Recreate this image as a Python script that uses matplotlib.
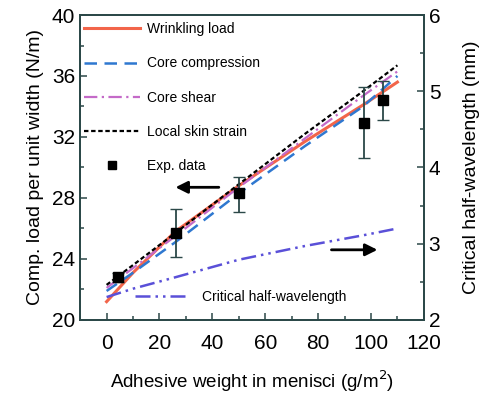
import matplotlib.pyplot as plt
from matplotlib.lines import Line2D

plt.rcParams['font.family'] = ['Liberation Sans', 'DejaVu Sans']

# experimental points
exp_x = [4.5, 26.3, 50, 97.4, 104.5]
exp_y = [22.8, 25.7, 28.3, 32.9, 34.4]
exp_lo = [0.3, 1.6, 1.2, 2.3, 1.3]
exp_hi = [0.3, 1.6, 1.1, 2.4, 1.3]

# model curves (left axis)
model_x = [0, 10, 26, 50, 75, 97, 110]
wrinkling = [21.2, 23.1, 25.8, 28.8, 31.7, 34.1, 35.6]
core_comp = [21.9, 23.1, 25.1, 28.3, 31.4, 34.0, 36.0]
core_shear = [22.1, 23.4, 25.5, 28.7, 31.9, 34.7, 36.3]
skin_strain = [22.3, 23.6, 25.7, 28.9, 32.2, 35.0, 36.7]

# critical half-wavelength (right axis)
wl_x = [0, 10, 26, 50, 75, 97, 110]
wavelength = [2.30, 2.41, 2.56, 2.79, 2.97, 3.11, 3.20]

fig = plt.figure(figsize=(4.8, 3.95), dpi=100)
ax = fig.add_axes([0.167, 0.19, 0.716, 0.772])
ax2 = ax.twinx()

spine_col = '#2b4848'

l1, = ax.plot(model_x, wrinkling, color='#f2654a', lw=2.2, label='Wrinkling load')
l2, = ax.plot(model_x, core_comp, color='#2f78d0', lw=1.8, ls=(0, (5, 3)), label='Core compression')
l3, = ax.plot(model_x, core_shear, color='#c46ac8', lw=1.6, ls=(0, (6, 2, 1, 2)), label='Core shear')
l4, = ax.plot(model_x, skin_strain, color='black', lw=1.6, ls=(0, (2, 1.2)), label='Local skin strain')
ax.errorbar(exp_x, exp_y, yerr=[exp_lo, exp_hi], fmt='none', ecolor=spine_col, elinewidth=1.3, capsize=4, zorder=5)
ax.plot(exp_x, exp_y, 's', color='black', ms=7, zorder=6)
l5 = Line2D([], [], ls='none', marker='s', color='black', ms=6, label='Exp. data')

l6, = ax2.plot(wl_x, wavelength, color='#5a50d8', lw=1.8, ls=(0, (6, 2, 1, 2, 1, 2)), label='Critical half-wavelength')

ax.set_xlim(-10, 120)
ax.set_ylim(20, 40)
ax2.set_ylim(2, 6)
ax.set_xticks([0, 20, 40, 60, 80, 100, 120])
ax.set_xticks(range(-10, 121, 10), minor=True)
ax.set_yticks([20, 24, 28, 32, 36, 40])
ax.set_yticks(range(20, 41, 2), minor=True)
ax2.set_yticks([2, 3, 4, 5, 6])
ax2.set_yticks([2.5, 3.5, 4.5, 5.5], minor=True)

for a in (ax, ax2):
    for s in a.spines.values():
        s.set_color(spine_col)
        s.set_linewidth(1.3)
    a.tick_params(which='both', direction='in', color=spine_col, labelsize=15, width=1.1)
    a.tick_params(which='major', length=5)
    a.tick_params(which='minor', length=3)
ax.tick_params(axis='x', pad=10)

ax.set_ylabel('Comp. load per unit width (N/m)', fontsize=14, labelpad=6)
ax2.set_ylabel('Critical half-wavelength (mm)', fontsize=14, labelpad=16)
ax.set_xlabel('Adhesive weight in menisci (g/m$^2$)', fontsize=13.5, labelpad=11)

leg = ax.legend(handles=[l1, l2, l3, l4, l5], loc='upper left', bbox_to_anchor=(0, 0.99),
                frameon=False, fontsize=10, handlelength=4.0, handletextpad=0.5,
                labelspacing=1.45, borderaxespad=0.3, borderpad=0)
ax.add_artist(leg)
ax.legend(handles=[l6], loc='lower left', bbox_to_anchor=(0.14, 0.03), frameon=False,
          fontsize=10, handlelength=3.8, handletextpad=1.0, borderpad=0)

# arrows pointing to the relevant axis
ax.annotate('', xy=(25, 28.7), xytext=(43.5, 28.7),
            arrowprops=dict(arrowstyle='-|>', color='black', lw=2, mutation_scale=18))
ax.annotate('', xy=(103.5, 24.6), xytext=(84, 24.6),
            arrowprops=dict(arrowstyle='-|>', color='black', lw=2, mutation_scale=18))

fig.savefig('out.png', dpi=100)
